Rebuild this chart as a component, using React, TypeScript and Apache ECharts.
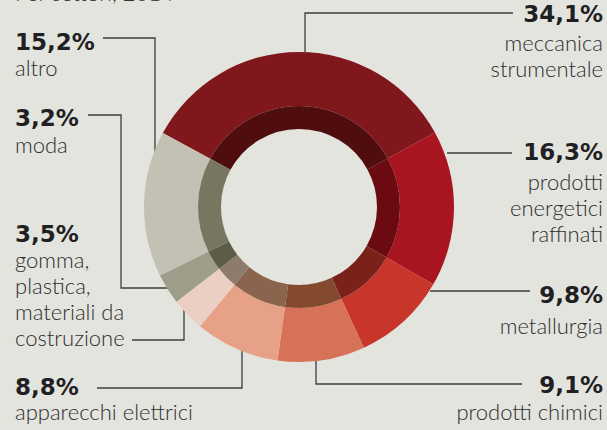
import React, { useEffect, useRef } from "react";
import * as echarts from "echarts";

const categories = [
  "meccanica strumentale",
  "prodotti energetici raffinati",
  "metallurgia",
  "prodotti chimici",
  "apparecchi elettrici",
  "gomma, plastica, materiali da costruzione",
  "moda",
  "altro",
];
const values = [34.1, 16.3, 9.8, 9.1, 8.8, 3.5, 3.2, 15.2];
const nameLines = [
  ["meccanica", "strumentale"],
  ["prodotti", "energetici", "raffinati"],
  ["metallurgia"],
  ["prodotti chimici"],
  ["apparecchi elettrici"],
  ["gomma,", "plastica,", "materiali da", "costruzione"],
  ["moda"],
  ["altro"],
];
const outerColors = ["#80171c", "#a8141f", "#c8352a", "#d77258", "#e7a186", "#ebcec4", "#9e9d8a", "#c2c1b4"];
const innerColors = ["#500d0e", "#6b0a10", "#7a2219", "#834a30", "#8a644c", "#8d7c6d", "#5d5c47", "#777660"];
const titleText = "Per settori, 2014";

// label layout: x, align, pct baseline, first name-line baseline, leader polyline
const labelLayout = [
  { x: 603, align: "right", pb: 22, nb: 51, line: [[513, 13], [305, 13], [305, 52]] },
  { x: 603, align: "right", pb: 160, nb: 190, line: [[512, 153], [447, 153]] },
  { x: 603, align: "right", pb: 303, nb: 334, line: [[530, 291], [430, 291]] },
  { x: 603, align: "right", pb: 393, nb: 420, line: [[522, 384], [316, 384], [316, 361]] },
  { x: 15, align: "left", pb: 395, nb: 420, line: [[97, 388], [242, 388], [242, 350]] },
  { x: 15, align: "left", pb: 242, nb: 268, line: [[132, 340], [184, 340], [184, 310]] },
  { x: 15, align: "left", pb: 126, nb: 153, line: [[88, 115], [121, 115], [121, 288], [168, 288]] },
  { x: 15, align: "left", pb: 50, nb: 76, line: [[103, 38], [155, 38], [155, 152]] },
];

const PCT_FS = 23;
const NAME_FS = 22;
const NAME_LH = 26;

function fmt(v: number) {
  return v.toFixed(1).replace(".", ",") + "%";
}

export default function App() {
  const ref = useRef<HTMLDivElement>(null);
  useEffect(() => {
    if (!ref.current) return;
    const chart = echarts.init(ref.current, undefined, { renderer: "svg" });
    const data = categories.map((c, i) => ({ name: c, value: values[i] }));
    const graphics: any[] = [];
    graphics.push({
      type: "text",
      x: 15,
      y: 1 - NAME_LH / 2 - 0.387 * NAME_FS,
      style: {
        text: titleText,
        font: `300 ${NAME_FS}px Lato`,
        fill: "#333333",
        lineHeight: NAME_LH,
        verticalAlign: "top",
      },
    });
    labelLayout.forEach((l, i) => {
      graphics.push({
        type: "polyline",
        shape: { points: l.line },
        style: { stroke: "#3c3c3c", lineWidth: 1.3, fill: null },
        silent: true,
      });
      graphics.push({
        type: "text",
        x: l.x,
        y: l.pb - PCT_FS / 2 - 0.346 * PCT_FS,
        style: {
          text: fmt(values[i]),
          font: `bold ${PCT_FS}px "DejaVu Sans"`,
          fill: "#1f1f24",
          align: l.align,
          verticalAlign: "top",
          lineHeight: PCT_FS,
        },
      });
      graphics.push({
        type: "text",
        x: l.x,
        y: l.nb - NAME_LH / 2 - 0.387 * NAME_FS,
        style: {
          text: nameLines[i].join("\n"),
          font: `300 ${NAME_FS}px Lato`,
          fill: "#2e2e2e",
          align: l.align,
          verticalAlign: "top",
          lineHeight: NAME_LH,
        },
      });
    });
    chart.setOption({
      animation: false,
      backgroundColor: "#e4e4de",
      graphic: graphics,
      series: [
        {
          type: "pie",
          center: [299, 207],
          radius: [101, 155],
          startAngle: 151.5,
          clockwise: true,
          silent: true,
          label: { show: false },
          labelLine: { show: false },
          emphasis: { disabled: true },
          data: data.map((d, i) => ({ ...d, itemStyle: { color: outerColors[i], borderWidth: 0 } })),
        },
        {
          type: "pie",
          center: [299, 207],
          radius: [78, 101],
          startAngle: 151.5,
          clockwise: true,
          silent: true,
          label: { show: false },
          labelLine: { show: false },
          emphasis: { disabled: true },
          data: data.map((d, i) => ({ ...d, itemStyle: { color: innerColors[i], borderWidth: 0 } })),
        },
      ],
    });
    return () => chart.dispose();
  }, []);
  return (
    <div
      ref={ref}
      style={{ position: "fixed", left: 0, top: 0, width: 607, height: 430 }}
    />
  );
}
